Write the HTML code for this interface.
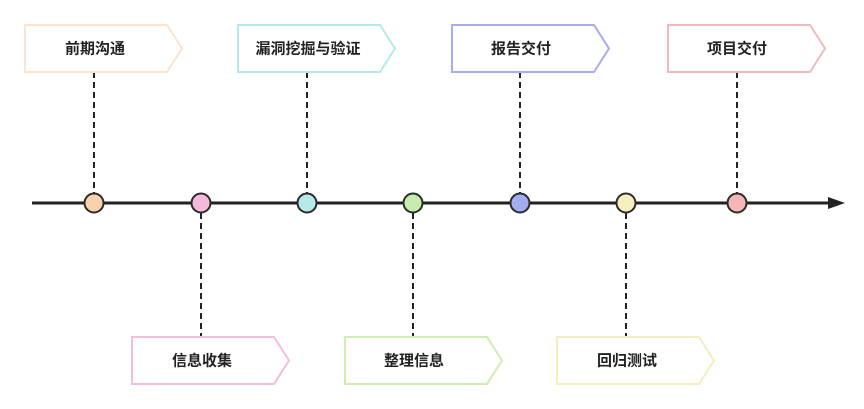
<!DOCTYPE html>
<html><head><meta charset="utf-8"><style>
html,body{margin:0;padding:0;background:#fff;}
svg{display:block;}
text{font-family:"Liberation Sans","Noto Sans CJK SC",sans-serif;font-weight:bold;font-size:15px;fill:#222;text-anchor:middle;dominant-baseline:central;}
</style></head><body>
<svg width="864" height="409" viewBox="0 0 864 409">
<g stroke="#222" stroke-width="2" stroke-dasharray="6,4" fill="none">
<line x1="94" y1="72" x2="94" y2="193"/>
<line x1="307" y1="72" x2="307" y2="193"/>
<line x1="520" y1="72" x2="520" y2="193"/>
<line x1="737" y1="72" x2="737" y2="193"/>
<line x1="201" y1="213" x2="201" y2="337"/>
<line x1="413" y1="213" x2="413" y2="337"/>
<line x1="626" y1="213" x2="626" y2="337"/>
</g>
<line x1="32" y1="203" x2="832" y2="203" stroke="#222" stroke-width="3"/>
<polygon points="828,197 845,203 828,209" fill="#222"/>
<g stroke-width="2" fill="#fff">
<polygon points="25,25 167,25 182,48.5 167,72 25,72" stroke="#fde3cc"/>
<polygon points="238,25 380,25 395,48.5 380,72 238,72" stroke="#b4e9ec"/>
<polygon points="452,25 594,25 609,48.5 594,72 452,72" stroke="#a6acf0"/>
<polygon points="668,25 810,25 825,48.5 810,72 668,72" stroke="#f3b9bd"/>
<polygon points="132,337 274,337 289,360.5 274,384 132,384" stroke="#f4bddc"/>
<polygon points="345,337 487,337 502,360.5 487,384 345,384" stroke="#cdeeb0"/>
<polygon points="557,337 699,337 714,360.5 699,384 557,384" stroke="#f8ecbe"/>
</g>
<text x="95" y="49">前期沟通</text>
<text x="308" y="49">漏洞挖掘与验证</text>
<text x="521" y="49">报告交付</text>
<text x="737" y="49">项目交付</text>
<text x="202" y="361">信息收集</text>
<text x="414" y="361">整理信息</text>
<text x="627" y="361">回归测试</text>
<g stroke="#2b2b2b" stroke-width="2">
<circle cx="94" cy="203" r="9.5" fill="#f8d2ac"/>
<circle cx="201" cy="203" r="9.5" fill="#f5b9dc"/>
<circle cx="307" cy="203" r="9.5" fill="#b5e9ea"/>
<circle cx="413" cy="203" r="9.5" fill="#c8ecb0"/>
<circle cx="520" cy="203" r="9.5" fill="#a3acee"/>
<circle cx="626" cy="203" r="9.5" fill="#f5eebf"/>
<circle cx="737" cy="203" r="9.5" fill="#f4b6b6"/>
</g>
</svg>
</body></html>
